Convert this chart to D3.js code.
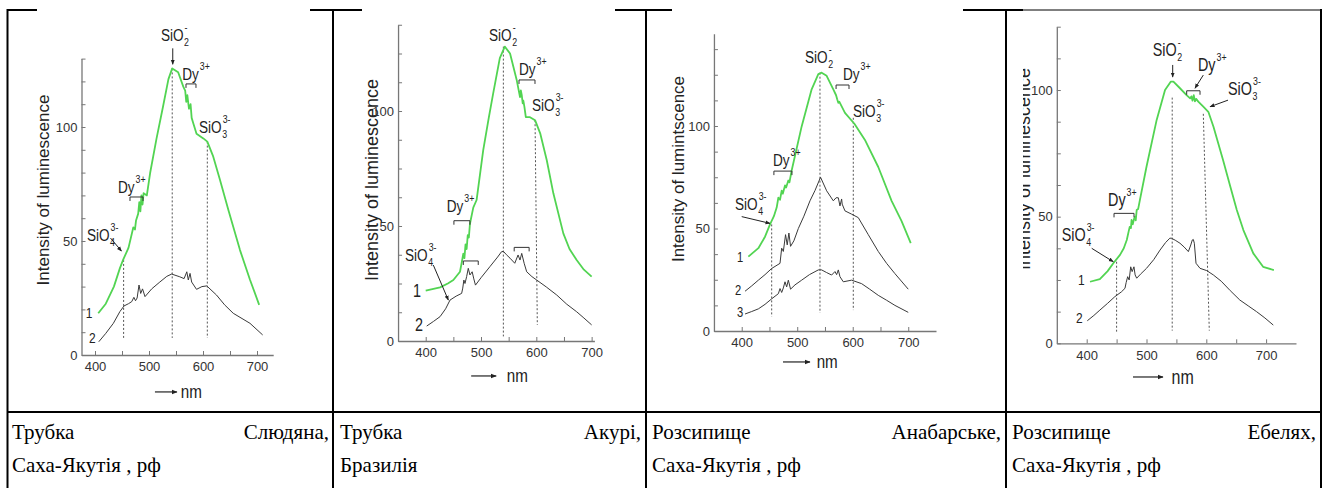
<!DOCTYPE html>
<html><head><meta charset="utf-8">
<script src="https://cdn.jsdelivr.net/npm/d3@7"></script>
<style>
body{margin:0;background:#fff}svg{display:block}
.cap{font-family:"Liberation Serif","Times New Roman","DejaVu Serif","Noto Serif",serif;font-size:21px;fill:#000}
</style>
</head><body>
<svg id="c" width="1323" height="488"></svg>
<script>
// ---------- DATA ----------
const xTicks = [400, 450, 500, 550, 600, 650, 700];
const xLabels = [400, 500, 600, 700];
const yLabels = [0, 50, 100];
const captions = [
  ["Трубка", "Слюдяна,", "Саха-Якутія , рф"],
  ["Трубка", "Акурі,", "Бразилія"],
  ["Розсипище", "Анабарське,", "Саха-Якутія , рф"],
  ["Розсипище", "Ебелях,", "Саха-Якутія , рф"]
];
const yTitles = ["Intensity of luminescence", "Intensity of luminescence", "Intensity of lumintscence", "Intensity of luminescence"];

// panel 1 (Слюдяна)
const p1Green = [[406,18.3],[420,22.5],[435,30],[446,38],[452,41.7],[462,47],[471,56],[474,55],[476,59],[480,62],[482,67],[484,63],[486,70],[488,66],[490,71],[496,70],[502,79.7],[514,95],[526,109],[536,121],[543,125.7],[554,124],[563.5,117.7],[567,116],[569,111],[571,114],[574,108],[577,110],[579,104],[582,101.6],[588,97],[600.6,95],[608,93.6],[619,87],[631.5,76.8],[647,63.6],[668.5,46],[687,33],[704,22]];
const p1Black = [[407,5.8],[420,9.5],[434,13.9],[446,19],[453.7,21.5],[462,22.5],[468,23.4],[472,25.3],[475,23.8],[478,25],[481.5,30.7],[484.6,27],[488,29],[492.6,25.6],[505,29],[520,32],[533,34.5],[542,35.5],[557,34.3],[565,33.5],[570,36.5],[572.8,32.9],[576,35.8],[579,32],[588,28.8],[598,30],[607,30.3],[625,26.3],[640,22],[656,18.3],[687,13.9],[710.5,8.8]];
// panel 2 (Акурі)
const p2Green = [[400,21.9],[426,23.3],[440,25],[450,26.5],[462,30.1],[465,34],[468,38],[470,36],[472,42],[474,40],[476,46],[478,45],[480,51],[486,58],[492,61.3],[504,83],[514,97],[522,107.7],[534,123],[543,128],[552.5,125],[564.5,113.5],[570.5,106],[572,109],[573.6,107],[575.4,103.3],[576.5,104.5],[578.4,101.9],[581,97.3],[588.6,97.3],[597.7,96],[607,90.3],[618.8,78.7],[630.8,64.2],[648.8,46.8],[660,40],[672.9,35.2],[686,31],[700,28]];
const p2Black = [[401.8,6.5],[414,8.5],[426,10.6],[436,14],[444,17.8],[455,19.5],[465,20.7],[467,23],[469,26.5],[471,25],[474,28],[477,31.6],[480,28.7],[484,30.1],[487,27],[490,24.3],[500,27.5],[516,32.3],[530,36.5],[537,38.8],[540.4,39],[546,37.5],[552.5,36],[561,33.8],[567,37.4],[570.5,35.2],[573.6,38.1],[578,33.8],[582.6,30.1],[592,28],[600.7,26.5],[618,23.5],[636.9,20],[655,16],[673,12.7],[686,10],[700,7]];
// panel 3 (Анабарське)
const p3Green = [[412,36.3],[430,40.4],[442,46],[451,52],[458,56],[463,60.2],[466,65],[469,64],[472,68.5],[474,67],[478,71],[480,70],[484,73.4],[486,72.5],[490,78.3],[508,99.8],[526,117.9],[538,125.3],[544,126],[553,124.5],[565,117.9],[570,115],[572,113],[574,111.3],[576,111.8],[586,106.4],[603,101.1],[622,93.2],[646,80],[670,63.5],[688,53.6],[704.5,42.9]];
const p3Black2 = [[406,19.4],[418,22],[430,24.8],[442,27.5],[454,30.5],[469,33],[472,40.4],[475,38.8],[479,47],[482,42],[485,47.8],[488,41.3],[494,44],[502,50],[512,56],[523,63.5],[532,68.5],[542,75],[553,68.4],[565,63.5],[570,65],[574,65],[577,61],[580,64.4],[581,61.9],[586,58.6],[598,57],[610,55.3],[628,47],[646,38.8],[661,33],[676,28],[700,20.4]];
const p3Black3 = [[406,8.3],[418,9.5],[430,10.8],[442,13],[454,15.7],[466,18.2],[469,20.7],[472,18.8],[475,21],[478,24],[481,21.5],[484,24.8],[488,20.4],[496,22.5],[508,24.8],[522,27.5],[538,29.8],[544,29.8],[553,28.5],[562,27.3],[568,29],[571,27.5],[574,29.8],[577,26.5],[583,24],[598,24.8],[616,23.1],[630,20.5],[646,17.4],[661,15],[676,12.5],[700,9.1]];
// panel 4 (Ебелях)
const p4Green = [[405.5,24.3],[422,25.3],[435,28.5],[444.5,31.6],[455.7,34.9],[462,37.5],[467,40.8],[470,44],[472,46],[474,45.5],[475,48.7],[477,47],[479,49],[481,50],[482,48.5],[483.6,52.6],[486,53],[489,56.6],[500,69.7],[517,88.2],[531,100],[540.5,103.3],[545,103.3],[556,100.7],[567,98],[573,96.7],[575,97.5],[577,95.8],[579,98],[581,95.5],[583,96.5],[586.6,95.4],[595,93.4],[603.4,91.4],[612,85.5],[628,72.4],[640,62],[651,52.6],[662,44.7],[678.6,35.5],[695,30.2],[713,28.9]];
const p4Black = [[401,8.9],[412,11],[422,13.1],[435,15.8],[447,18.4],[458,20.3],[464,21.7],[466,24],[468.5,26.3],[471,25],[473.6,30.2],[476,28.3],[479,30.2],[481,27],[483.6,25.7],[490,27.3],[500,29.6],[512,33],[522.6,36.8],[532,39.8],[539,41.5],[541.5,41.5],[548,40.7],[556,39.5],[563,38],[570,36.2],[574,38.8],[576.6,40.8],[578.3,41],[580,39.5],[582.8,31.6],[589.5,29.6],[600.7,28.7],[611.7,27],[625,24.5],[640,20.8],[656,17.1],[670,14.8],[684,12.5],[698,10],[712,7.2]];

// annotations (data coordinates: nm, intensity)
const p1Chem = [["SiO","2","-",522,137.7],["Dy","","3+",561.5,120.6],["SiO","3","3-",592.6,97.4],["Dy","","3+",442.6,71],["SiO","4","3-",385,50]];
const p1Brackets = [[568.5,587,118.9],[464.8,488.9,69.3]];
const p1Arrows = [[544,134.5,544,127.5],[428.7,51.3,449,45.6]];
const p1Dotted = [[453,41.7,453,7.5],[543,125.7,543,7.5],[608,93.6,608,7.5]];
const p1Nums = [["1",383,16.2],["2",389,5.3]];
const p1Unit = [511,551.7,-16.2,559,-18.9];

const p2Chem = [["SiO","2","-",514.5,130.4],["Dy","","3+",568.7,115.7],["SiO","3","3-",592.2,100],["Dy","","3+",438,56],["SiO","4","3-",362.6,34.8]];
const p2Brackets = [[568.7,597.6,113.5],[451,480,52.3],[468,495,34.8],[560,587,40.7]];
const p2Arrows = [[413.8,33,440.9,17.8]];
const p2Dotted = [[540.4,128,540.4,2],[597.7,96,601.8,7]];
const p2Nums = [["1",377,19.1],["2",380.7,4.3]];
const p2Unit = [482.2,527.4,-15.2,546.5,-17.8];

const p3Chem = [["SiO","2","-",514,130.7],["Dy","","3+",582.5,122.4],["SiO","3","3-",600.5,104.4],["Dy","","3+",456.4,80.5],["SiO","4","3-",388,59]];
const p3Brackets = [[570,593.3,120],[458,490.5,78]];
const p3Arrows = [[400,55.8,451,52.5]];
const p3Dotted = [[454,52,454,7],[541,126,541,8.8],[601,104,601,10.2]];
const p3Nums = [["1",391.5,33.7],["2",388,17.6],["3",391.5,6.8]];
const p3Unit = [474.4,523,-15.1,535,-18];

const p4Chem = [["SiO","2","-",510.4,113.4],["Dy","","3+",586,107.5],["SiO","3","3-",636.3,98],["Dy","","3+",435.6,54.2],["SiO","4","3-",358.2,40.4]];
const p4Brackets = [[567.2,589.5,99.7],[445.7,479.1,51.3]];
const p4Arrows = [[543.8,109.9,543.8,105.1],[595,105.9,581.1,100.7],[636.3,96,606.2,93.4],[408.4,37.5,444.5,32.2]];
const p4Dotted = [[450,32.2,450,4.6],[543,97,543,5],[595,90.6,605,5]];
const p4Nums = [["1",385.5,23],["2",382,8]];
const p4Unit = [477.4,527.6,-13.3,542,-16];

// ---------- LAYOUT ----------
const GREEN = "#52d452", DARK = "#3a3a3a", AXIS = "#777", INK = "#222";
const SANS = "'Liberation Sans', Arial, sans-serif";
const panels = [
  {x0:81.5, x1:273.2, xd:[375,730], yb:355, yt:58.6, yd:[0,130], ystep:10, tx:49, ty:190, tfs:17, fs:17, nfs:15,
   green:p1Green, blacks:[p1Black], chem:p1Chem, br:p1Brackets, ar:p1Arrows, dot:p1Dotted, nums:p1Nums, unit:p1Unit, clip:null},
  {x0:398.05, x1:594.4, xd:[350,705], yb:341, yt:24.75, yd:[0,137.5], ystep:12.5, tx:378, ty:180, tfs:18, fs:17, nfs:18,
   green:p2Green, blacks:[p2Black], chem:p2Chem, br:p2Brackets, ar:p2Arrows, dot:p2Dotted, nums:p2Nums, unit:p2Unit, clip:null},
  {x0:713.95, x1:936, xd:[350,750], yb:331, yt:33.75, yd:[0,145], ystep:12.5, tx:684, ty:169, tfs:17, fs:17, nfs:14,
   green:p3Green, blacks:[p3Black2,p3Black3], chem:p3Chem, br:p3Brackets, ar:p3Arrows, dot:p3Dotted, nums:p3Nums, unit:p3Unit, clip:null},
  {x0:1056.8, x1:1296, xd:[350,750], yb:343.3, yt:26.7, yd:[0,125], ystep:12.5, tx:1030, ty:169, tfs:18, fs:18, nfs:15,
   green:p4Green, blacks:[p4Black], chem:p4Chem, br:p4Brackets, ar:p4Arrows, dot:p4Dotted, nums:p4Nums, unit:p4Unit, clip:[1023,0,300,410]}
];
const SX = 0.8;

const svg = d3.select("#c");
const defs = svg.append("defs");
defs.append("marker").attr("id","ah").attr("viewBox","0 0 10 10").attr("refX",9).attr("refY",5)
  .attr("markerWidth",5).attr("markerHeight",5).attr("orient","auto-start-reverse")
  .append("path").attr("d","M0,1 L10,5 L0,9 Z").attr("fill",INK);

function squeezed(g, x, y, str, size, anchor) {
  return g.append("text").attr("transform", `translate(${x},${y}) scale(${SX},1)`)
    .attr("font-size", size).attr("font-family", SANS).attr("fill", INK)
    .attr("text-anchor", anchor || "start").text(str);
}

panels.forEach((p, i) => {
  const g = svg.append("g");
  const x = d3.scaleLinear().domain(p.xd).range([p.x0, p.x1]);
  const y = d3.scaleLinear().domain(p.yd).range([p.yb, p.yt]);

  // y title
  const tg = g.append("g");
  if (p.clip) {
    defs.append("clipPath").attr("id","clip"+i).append("rect")
      .attr("x",p.clip[0]).attr("y",p.clip[1]).attr("width",p.clip[2]).attr("height",p.clip[3]);
    tg.attr("clip-path",`url(#clip${i})`);
  }
  tg.append("text").attr("transform",`translate(${p.tx},${p.ty}) rotate(-90)`)
    .attr("text-anchor","middle").attr("font-family",SANS).attr("font-size",p.tfs)
    .attr("fill",INK).text(yTitles[i]);

  // axes
  const yAxis = d3.axisLeft(y).tickValues(d3.range(0, p.yd[1] + 1e-9, p.ystep))
    .tickSizeInner(-4).tickSizeOuter(0).tickPadding(4)
    .tickFormat(d => yLabels.includes(d) ? d : "");
  const xAxis = d3.axisBottom(x).tickValues(xTicks)
    .tickSizeInner(-4).tickSizeOuter(0).tickPadding(7)
    .tickFormat(d => xLabels.includes(d) ? d : "");
  [g.append("g").attr("transform",`translate(${p.x0},0)`).call(yAxis),
   g.append("g").attr("transform",`translate(0,${p.yb})`).call(xAxis)].forEach(a => {
    a.select(".domain").attr("stroke",AXIS).attr("stroke-width",1.3);
    a.selectAll(".tick line").attr("stroke",AXIS).attr("stroke-width",1);
    a.selectAll(".tick text").attr("fill","#333").attr("font-size",13).attr("font-family",SANS);
  });

  // dotted guide lines
  g.selectAll(".dot").data(p.dot).join("line")
    .attr("x1",d=>x(d[0])).attr("y1",d=>y(d[1])).attr("x2",d=>x(d[2])).attr("y2",d=>y(d[3]))
    .attr("stroke","#555").attr("stroke-width",1).attr("stroke-dasharray","2,2");

  // curves
  const line = d3.line().x(d=>x(d[0])).y(d=>y(d[1]));
  p.blacks.forEach(b => g.append("path").datum(b).attr("d",line)
    .attr("fill","none").attr("stroke",DARK).attr("stroke-width",1).attr("stroke-linejoin","round"));
  g.append("path").datum(p.green).attr("d",line)
    .attr("fill","none").attr("stroke",GREEN).attr("stroke-width",1.8).attr("stroke-linejoin","round");

  // brackets
  g.selectAll(".br").data(p.br).join("path")
    .attr("d",d=>`M${x(d[0])},${y(d[2])+4}V${y(d[2])}H${x(d[1])}V${y(d[2])+4}`)
    .attr("fill","none").attr("stroke","#333").attr("stroke-width",1);

  // arrows
  g.selectAll(".ar").data(p.ar).join("line")
    .attr("x1",d=>x(d[0])).attr("y1",d=>y(d[1])).attr("x2",d=>x(d[2])).attr("y2",d=>y(d[3]))
    .attr("stroke",INK).attr("stroke-width",1).attr("marker-end","url(#ah)");

  // chemical labels
  p.chem.forEach(c => {
    const px = x(c[3]), py = y(c[4]);
    const t = squeezed(g, px, py, c[0], p.fs);
    const w = t.node().getComputedTextLength() * SX;
    const ss = Math.round(p.fs * 0.62);
    if (c[1]) squeezed(g, px + w + 0.5, py + 5, c[1], ss);
    if (c[2]) squeezed(g, px + w + 1, py - p.fs * 0.58, c[2], ss);
  });

  // curve numbers
  p.nums.forEach(n => squeezed(g, x(n[1]), y(n[2]), n[0], p.nfs));

  // unit label
  const u = p.unit;
  g.append("line").attr("x1",x(u[0])).attr("y1",y(u[2])).attr("x2",x(u[1])).attr("y2",y(u[2]))
    .attr("stroke",INK).attr("stroke-width",1.2).attr("marker-end","url(#ah)");
  squeezed(g, x(u[3]), y(u[4]), "nm", p.fs + 2);
});

// ---------- TABLE ----------
const tbl = svg.append("g").attr("stroke","#000");
const vLines = [7.5, 333, 646, 1006, 1321];
vLines.forEach(v => tbl.append("line").attr("x1",v).attr("x2",v).attr("y1",9).attr("y2",488).attr("stroke-width",2));
[[7,37],[310,362],[615,672],[963,1023]].forEach(s =>
  tbl.append("line").attr("x1",s[0]).attr("x2",s[1]).attr("y1",10).attr("y2",10).attr("stroke-width",2));
tbl.append("line").attr("x1",1023).attr("x2",1321).attr("y1",10).attr("y2",10).attr("stroke-width",1);
tbl.append("line").attr("x1",7).attr("x2",1321).attr("y1",412).attr("y2",412).attr("stroke-width",2);

const cellL = [12, 340, 652, 1012], cellR = [329, 641, 1001, 1316];
captions.forEach((c, i) => {
  svg.append("text").attr("class","cap").attr("x",cellL[i]).attr("y",439).text(c[0]);
  svg.append("text").attr("class","cap").attr("x",cellR[i]).attr("y",439).attr("text-anchor","end").text(c[1]);
  svg.append("text").attr("class","cap").attr("x",cellL[i]).attr("y",472).text(c[2]);
});
</script>
</body></html>
